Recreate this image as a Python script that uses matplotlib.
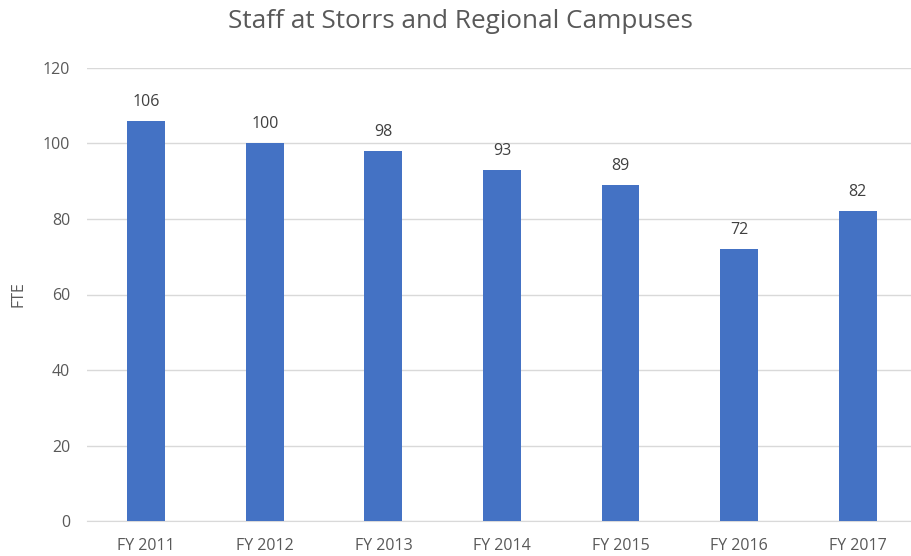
import matplotlib
matplotlib.use("Agg")
import matplotlib.pyplot as plt

categories = ["FY 2011", "FY 2012", "FY 2013", "FY 2014", "FY 2015", "FY 2016", "FY 2017"]
values = [106, 100, 98, 93, 89, 72, 82]
yticks = [0, 20, 40, 60, 80, 100, 120]

plt.rcParams['font.family'] = ['Open Sans', 'DejaVu Sans']
txt = '#595959'

fig = plt.figure(figsize=(9.11, 5.56), dpi=100)
ax = fig.add_axes([87/911, 35/556, 824/911, 453/556])
x = list(range(len(categories)))
ax.bar(x, values, width=0.32, color='#4472C4', zorder=3)
for xi, v in zip(x, values):
    ax.annotate(str(v), (xi, v), xytext=(0, 8), textcoords='offset points',
                ha='center', va='bottom', fontsize=11.5, color='#404040')
ax.set_xlim(-0.5, 6.45)
ax.set_ylim(0, 120)
ax.set_yticks(yticks)
ax.set_xticks(x)
ax.set_xticklabels(categories)
ax.grid(axis='y', color='#D9D9D9', linewidth=1, zorder=0)
for s in ['top', 'right', 'left']:
    ax.spines[s].set_visible(False)
ax.spines['bottom'].set_color('#D9D9D9')
ax.tick_params(length=0, colors=txt, labelsize=11.5)
ax.tick_params(axis='y', pad=12)
ax.tick_params(axis='x', pad=12)
fig.text(18/911, 1 - 294/556, 'FTE', rotation=90, ha='center', va='center',
         fontsize=11.5, color=txt)
fig.text(460/911, 1 - 22/556, 'Staff at Storrs and Regional Campuses', ha='center', va='center',
         fontsize=18.8, color=txt)
fig.savefig('out.png', dpi=100)
